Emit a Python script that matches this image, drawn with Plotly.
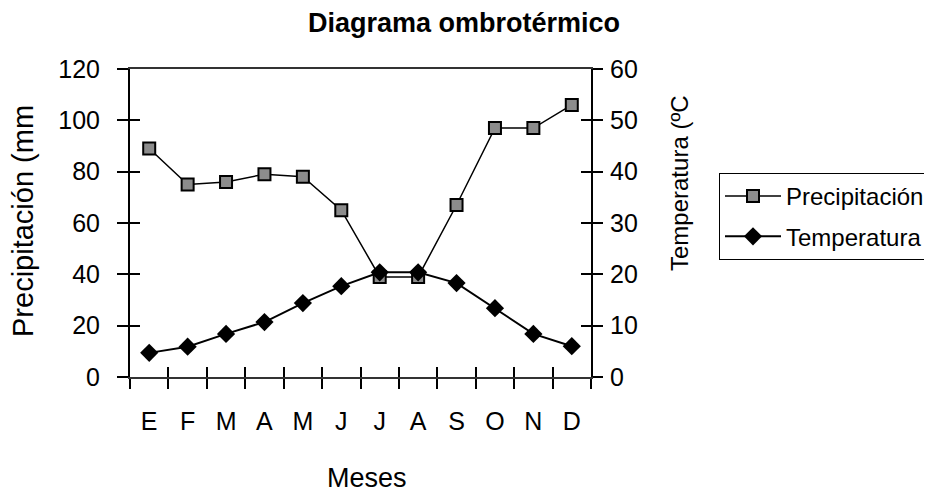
import plotly.graph_objects as go

meses = ["E", "F", "M", "A", "M", "J", "J", "A", "S", "O", "N", "D"]
precipitacion = [89, 75, 76, 79, 78, 65, 39, 39, 67, 97, 97, 106]
temperatura = [4.7, 5.9, 8.4, 10.7, 14.4, 17.7, 20.4, 20.4, 18.3, 13.4, 8.4, 6.0]
ticks_precip = [0, 20, 40, 60, 80, 100, 120]
ticks_temp = [0, 10, 20, 30, 40, 50, 60]

xpos = list(range(len(meses)))
bounds = [i - 0.5 for i in range(len(meses) + 1)]
FONT = "Liberation Sans, Arial, sans-serif"

# page offset (body margin) compensation
OFF = 8
FW, FH = 932, 492
L, T = 130 - OFF, 69 - OFF
R, B = FW - (591 - OFF), FH - (377 - OFF)
PW, PH = FW - L - R, FH - T - B


def px(sx):
    return (sx - OFF - L) / PW


def py(sy):
    return (FH - B - (sy - OFF)) / PH


fig = go.Figure()
fig.add_trace(go.Scatter(
    x=xpos, y=precipitacion, name="Precipitación", mode="lines+markers",
    line=dict(color="black", width=1.5),
    marker=dict(symbol="square", size=12, color="#8c8c8c", line=dict(color="black", width=2)),
    legendgroup="p", xaxis="x", yaxis="y"))
fig.add_trace(go.Scatter(
    x=xpos, y=temperatura, name="Temperatura", mode="lines+markers",
    line=dict(color="black", width=2),
    marker=dict(symbol="diamond", size=14, color="black"),
    legendgroup="t", xaxis="x", yaxis="y2"))
# helper traces for overlay tick axes (crossing ticks)
for xa, ya in [("x2", "y"), ("x", "y3"), ("x", "y4")]:
    fig.add_trace(go.Scatter(x=[None], y=[None], xaxis=xa, yaxis=ya,
                             showlegend=False, hoverinfo="skip"))

tickfont = dict(family=FONT, size=25, color="black")
fig.update_layout(
    width=FW, height=FH,
    margin=dict(l=L, r=R, t=T, b=B, autoexpand=False),
    paper_bgcolor="white", plot_bgcolor="white",
    title=dict(text="<b>Diagrama ombrotérmico</b>", x=(464 - OFF) / FW, xanchor="center",
               y=1 - (23 - OFF) / FH, yanchor="middle", xref="container", yref="container",
               font=dict(family=FONT, size=27, color="black")),
    xaxis=dict(range=[-0.5, 11.5], tickmode="array", tickvals=xpos, ticktext=meses,
               ticks="", showgrid=False, zeroline=False, showline=True, mirror=True,
               linecolor="#333", linewidth=1.5, tickfont=tickfont, ticklabelstandoff=21,
               minor=dict(tickmode="array", tickvals=bounds, ticks="outside", ticklen=10,
                          tickwidth=1.5, tickcolor="black", showgrid=False)),
    xaxis2=dict(overlaying="x", anchor="y", range=[-0.5, 11.5], tickmode="array",
                tickvals=bounds, ticks="inside", ticklen=10, tickwidth=1.5, tickcolor="black",
                showticklabels=False, showgrid=False, zeroline=False, showline=False),
    yaxis=dict(range=[0, 120], tickmode="array", tickvals=ticks_precip, ticks="outside",
               ticklen=11, tickwidth=1.5, tickcolor="black", showgrid=False, zeroline=False,
               showline=True, linecolor="black", linewidth=2, tickfont=tickfont,
               ticklabelstandoff=12),
    yaxis2=dict(range=[0, 60], overlaying="y", side="right", anchor="x", tickmode="array",
                tickvals=ticks_temp, ticks="outside", ticklen=10, tickwidth=1.5,
                tickcolor="black", showgrid=False, zeroline=False, showline=True,
                linecolor="black", linewidth=2, tickfont=tickfont, ticklabelstandoff=2),
    yaxis3=dict(range=[0, 120], overlaying="y", side="left", anchor="x", tickmode="array",
                tickvals=ticks_precip, ticks="inside", ticklen=10, tickwidth=1.5,
                tickcolor="black", showticklabels=False, showgrid=False, zeroline=False,
                showline=False),
    yaxis4=dict(range=[0, 60], overlaying="y", side="right", anchor="x", tickmode="array",
                tickvals=ticks_temp, ticks="inside", ticklen=10, tickwidth=1.5,
                tickcolor="black", showticklabels=False, showgrid=False, zeroline=False,
                showline=False),
    legend=dict(x=px(719), xanchor="left", y=py(173), yanchor="top",
                bordercolor="black", borderwidth=1, bgcolor="white",
                font=dict(family=FONT, size=24, color="black"),
                tracegroupgap=6, traceorder="grouped", itemwidth=56),
    showlegend=True,
    annotations=[
        dict(text="Precipitación (mm", x=px(23), y=py(221), xref="paper", yref="paper",
             xanchor="center", yanchor="middle", showarrow=False, textangle=-90,
             font=dict(family=FONT, size=29, color="black")),
        dict(text="Temperatura (ºC", x=px(679), y=py(183), xref="paper", yref="paper",
             xanchor="center", yanchor="middle", showarrow=False, textangle=-90,
             font=dict(family=FONT, size=24, color="black")),
        dict(text="Meses", x=px(367), y=py(478), xref="paper", yref="paper",
             xanchor="center", yanchor="middle", showarrow=False,
             font=dict(family=FONT, size=27, color="black")),
    ],
)

fig.write_html("out.html")
